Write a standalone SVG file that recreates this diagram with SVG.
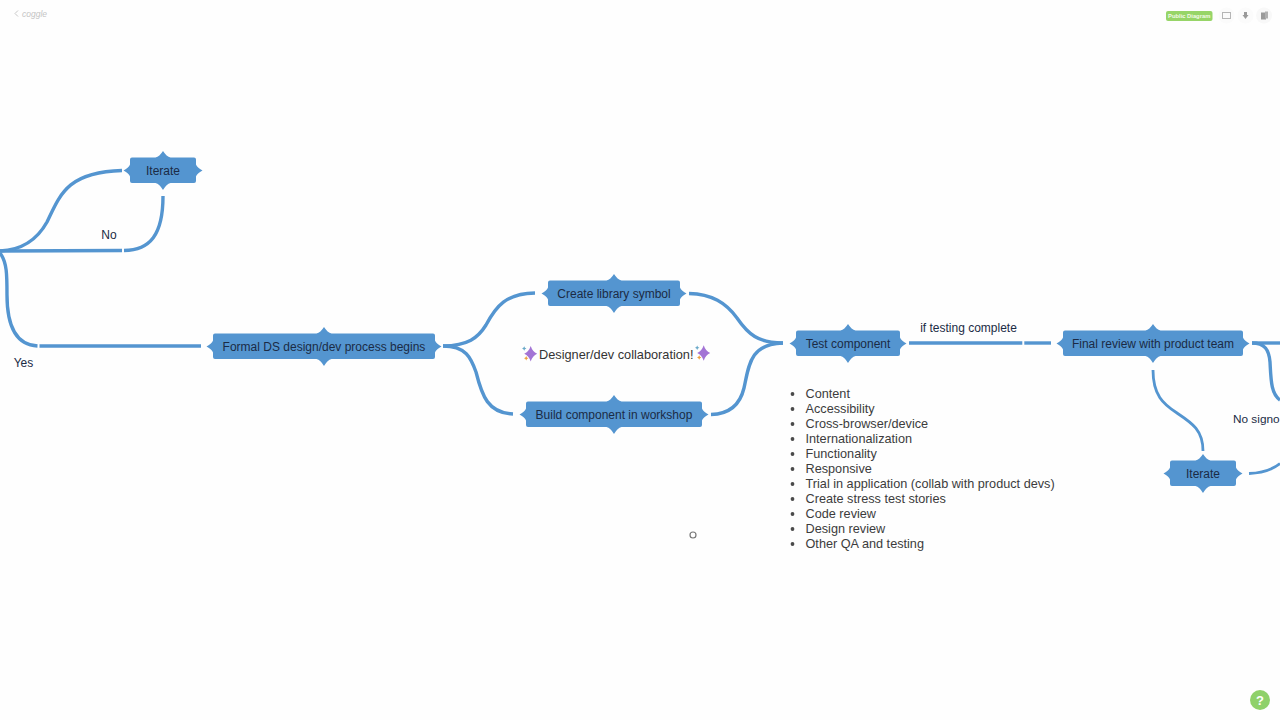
<svg xmlns="http://www.w3.org/2000/svg" width="1280" height="720" viewBox="0 0 1280 720">
<style>
text{font-family:"Liberation Sans",Arial,sans-serif;font-size:12px;fill:#1b2b45}
.c{text-anchor:middle}
.m{dominant-baseline:central}
.node{fill:#5495d0}
.conn path{fill:none;stroke:#5495d0;stroke-width:3.4;stroke-linecap:butt}
.conn path.thin{stroke-width:2.8}
.li text{fill:#3c3c3c;font-size:12.7px}
.li circle{fill:#4a4a4a}
</style>
<defs>
<g id="spark">
<path fill="#a374d5" d="M8 0Q9.800 5.700 14.500 7.700Q9.800 9.700 8 15.500Q6.200 9.700 1.500 7.700Q6.200 5.700 8 0Z"/>
<path fill="#6aa9c9" d="M1.500 0.300Q1.900 2.100 3.700 2.500Q1.900 2.900 1.500 4.700Q1.100 2.900 -0.700 2.500Q1.100 2.100 1.500 0.300Z"/>
<path fill="#eda13f" d="M3.500 10Q3.900 11.800 5.700 12.200Q3.900 12.600 3.500 14.400Q3.100 12.600 1.300 12.200Q3.100 11.800 3.500 10Z"/>
</g>
</defs>
<rect width="1280" height="720" fill="#fefefe"/>

<g id="chrome">
<path d="M18 10.500L15 13.500L18 16.500" fill="none" stroke="#c8c8c8" stroke-width="1"/>
<text x="22" y="16.500" style="font-size:8.500px;font-style:italic;fill:#c4c4c4">coggle</text>
<rect x="1166" y="11" width="46.500" height="10" rx="2" fill="#97d568"/>
<text x="1189.200" y="18.200" class="c" style="font-size:5.800px;font-weight:bold;fill:#f4fbe9">Public Diagram</text>
<circle cx="1226.500" cy="15.500" r="8" fill="#fbfbfb"/>
<rect x="1222.500" y="12.500" width="8" height="6" fill="none" stroke="#b5b5b5" stroke-width="1"/>
<circle cx="1245.500" cy="15.500" r="8" fill="#fbfbfb"/>
<path d="M1244 12h3v3h1.500l-3 4l-3-4h1.500z" fill="#9a9a9a"/>
<circle cx="1264" cy="15.500" r="8" fill="#f8f8f8"/>
<rect x="1261" y="12.500" width="5" height="7" fill="#9a9a9a"/>
<rect x="1265" y="11.500" width="3" height="7" fill="#b0b0b0"/>
<circle cx="1260" cy="700" r="10" fill="#8fd16a"/>
<text x="1260" y="704.500" class="c" style="font-size:13px;font-weight:bold;fill:#fff">?</text>
<circle cx="693" cy="535" r="3" fill="#fff" stroke="#777" stroke-width="1.200"/>
</g>

<g id="connectors" class="conn">
<path d="M0 251C22 250 37 240 47 222C60 195 67 172 122 170.500"/>
<path d="M0 251L122 250.500"/>
<path d="M124 250.500C150 250 163 235 163 196"/>
<path d="M0 253C7 262 7 275 7 295C7 330 18 345 37.500 346"/>
<path d="M39.500 346L201 346"/>
<path d="M443 346C468 345.500 478 338 486 325C496 306 506 293.500 535 293"/>
<path d="M443 346C466 346 471 358 476 372C482 396 488 413 513 414"/>
<path d="M689 293.500C712 294 726 303 737 318C748 334 758 343 783 343"/>
<path d="M711 414.500C730 414 740 405 744 388C749 365 750 344 783 343"/>
<path d="M909 343L1022.300 343"/>
<path d="M1024.300 343L1051 343"/>
<path d="M1252 343L1280 343"/>
<path d="M1252 343C1265 343 1269 350 1270 362C1271 380 1271 394 1280 400"/>
<path class="thin" d="M1153 370C1153 395 1163 404 1177 413C1192 423 1203 430 1203 451"/>
<path class="thin" d="M1249 473.500C1262 473 1272 470 1280 463.500"/>
</g>

<g id="node-iterate-top">
<path class="node" d="M132 157.500h23.500q4 -1 7.500 -6.500q3.500 5.500 7.500 6.500h23.500q2 0 2 2v5q1 3 6.500 6q-5.500 3 -6.500 6v4.500q0 2 -2 2h-23.500q-4 1 -7.500 7q-3.500 -6 -7.500 -7h-23.500q-2 0 -2 -2v-4.500q-1 -3 -6.500 -6q5.500 -3 6.500 -6v-5q0 -2 2 -2z"/>
<text x="163" y="170.500" class="c m">Iterate</text>
</g>
<g id="node-formal">
<path class="node" d="M215 333.500h101.500q4 -1 7.500 -6.500q3.500 5.500 7.500 6.500h101.500q2 0 2 2v5q1 3 6.500 6q-5.500 3 -6.500 6v4.500q0 2 -2 2h-101.500q-4 1 -7.500 7q-3.500 -6 -7.500 -7h-101.500q-2 0 -2 -2v-4.500q-1 -3 -6.500 -6q5.500 -3 6.500 -6v-5q0 -2 2 -2z"/>
<text x="324" y="346.500" class="c m">Formal DS design/dev process begins</text>
</g>
<g id="node-library">
<path class="node" d="M550 280.500h56.500q4 -1 7.500 -6.500q3.500 5.500 7.500 6.500h56.500q2 0 2 2v5q1 3 6.500 6q-5.500 3 -6.500 6v4.500q0 2 -2 2h-56.500q-4 1 -7.500 7q-3.500 -6 -7.500 -7h-56.500q-2 0 -2 -2v-4.500q-1 -3 -6.500 -6q5.500 -3 6.500 -6v-5q0 -2 2 -2z"/>
<text x="614" y="293.500" class="c m">Create library symbol</text>
</g>
<g id="node-workshop">
<path class="node" d="M528 401.500h78.500q4 -1 7.500 -6.500q3.500 5.500 7.500 6.500h78.500q2 0 2 2v5q1 3 6.500 6q-5.500 3 -6.500 6v4.500q0 2 -2 2h-78.500q-4 1 -7.500 7q-3.500 -6 -7.500 -7h-78.500q-2 0 -2 -2v-4.500q-1 -3 -6.500 -6q5.500 -3 6.500 -6v-5q0 -2 2 -2z"/>
<text x="614" y="414.500" class="c m">Build component in workshop</text>
</g>
<g id="node-test">
<path class="node" d="M798 330.500h42.500q4 -1 7.500 -6.500q3.500 5.500 7.500 6.500h42.500q2 0 2 2v5q1 3 6.500 6q-5.500 3 -6.500 6v4.500q0 2 -2 2h-42.500q-4 1 -7.500 7q-3.500 -6 -7.500 -7h-42.500q-2 0 -2 -2v-4.500q-1 -3 -6.500 -6q5.500 -3 6.500 -6v-5q0 -2 2 -2z"/>
<text x="848" y="343.500" class="c m">Test component</text>
</g>
<g id="node-final">
<path class="node" d="M1065 330.500h80.500q4 -1 7.500 -6.500q3.500 5.500 7.500 6.500h80.500q2 0 2 2v5q1 3 6.500 6q-5.500 3 -6.500 6v4.500q0 2 -2 2h-80.500q-4 1 -7.500 7q-3.500 -6 -7.500 -7h-80.500q-2 0 -2 -2v-4.500q-1 -3 -6.500 -6q5.500 -3 6.500 -6v-5q0 -2 2 -2z"/>
<text x="1153" y="343.500" class="c m">Final review with product team</text>
</g>
<g id="node-iterate-bottom">
<path class="node" d="M1172 460.500h23.500q4 -1 7.500 -6.500q3.500 5.500 7.500 6.500h23.500q2 0 2 2v5q1 3 6.500 6q-5.500 3 -6.500 6v4.500q0 2 -2 2h-23.500q-4 1 -7.500 7q-3.500 -6 -7.500 -7h-23.500q-2 0 -2 -2v-4.500q-1 -3 -6.500 -6q5.500 -3 6.500 -6v-5q0 -2 2 -2z"/>
<text x="1203" y="473.500" class="c m">Iterate</text>
</g>

<g id="labels">
<text x="109" y="234.500" class="c m">No</text>
<text x="23.500" y="362.500" class="c m">Yes</text>
<text x="968.500" y="327.500" class="c m">if testing complete</text>
<text x="1233" y="418.500" class="m" style="font-size:11.800px">No signo</text>
</g>

<g id="collab">
<use href="#spark" x="522.700" y="346"/>
<text x="539" y="354.500" class="m" style="fill:#333;font-size:12.750px">Designer/dev collaboration!</text>
<use href="#spark" x="695.700" y="345.300"/>
</g>

<g id="checklist" class="li">
<circle cx="792.500" cy="394" r="1.900"/><text x="805.500" y="394.300" class="m">Content</text>
<circle cx="792.500" cy="409" r="1.900"/><text x="805.500" y="409.300" class="m">Accessibility</text>
<circle cx="792.500" cy="424" r="1.900"/><text x="805.500" y="424.300" class="m">Cross-browser/device</text>
<circle cx="792.500" cy="439" r="1.900"/><text x="805.500" y="439.300" class="m">Internationalization</text>
<circle cx="792.500" cy="454" r="1.900"/><text x="805.500" y="454.300" class="m">Functionality</text>
<circle cx="792.500" cy="469" r="1.900"/><text x="805.500" y="469.300" class="m">Responsive</text>
<circle cx="792.500" cy="484" r="1.900"/><text x="805.500" y="484.300" class="m">Trial in application (collab with product devs)</text>
<circle cx="792.500" cy="499" r="1.900"/><text x="805.500" y="499.300" class="m">Create stress test stories</text>
<circle cx="792.500" cy="514" r="1.900"/><text x="805.500" y="514.300" class="m">Code review</text>
<circle cx="792.500" cy="529" r="1.900"/><text x="805.500" y="529.300" class="m">Design review</text>
<circle cx="792.500" cy="544" r="1.900"/><text x="805.500" y="544.300" class="m">Other QA and testing</text>
</g>
</svg>
